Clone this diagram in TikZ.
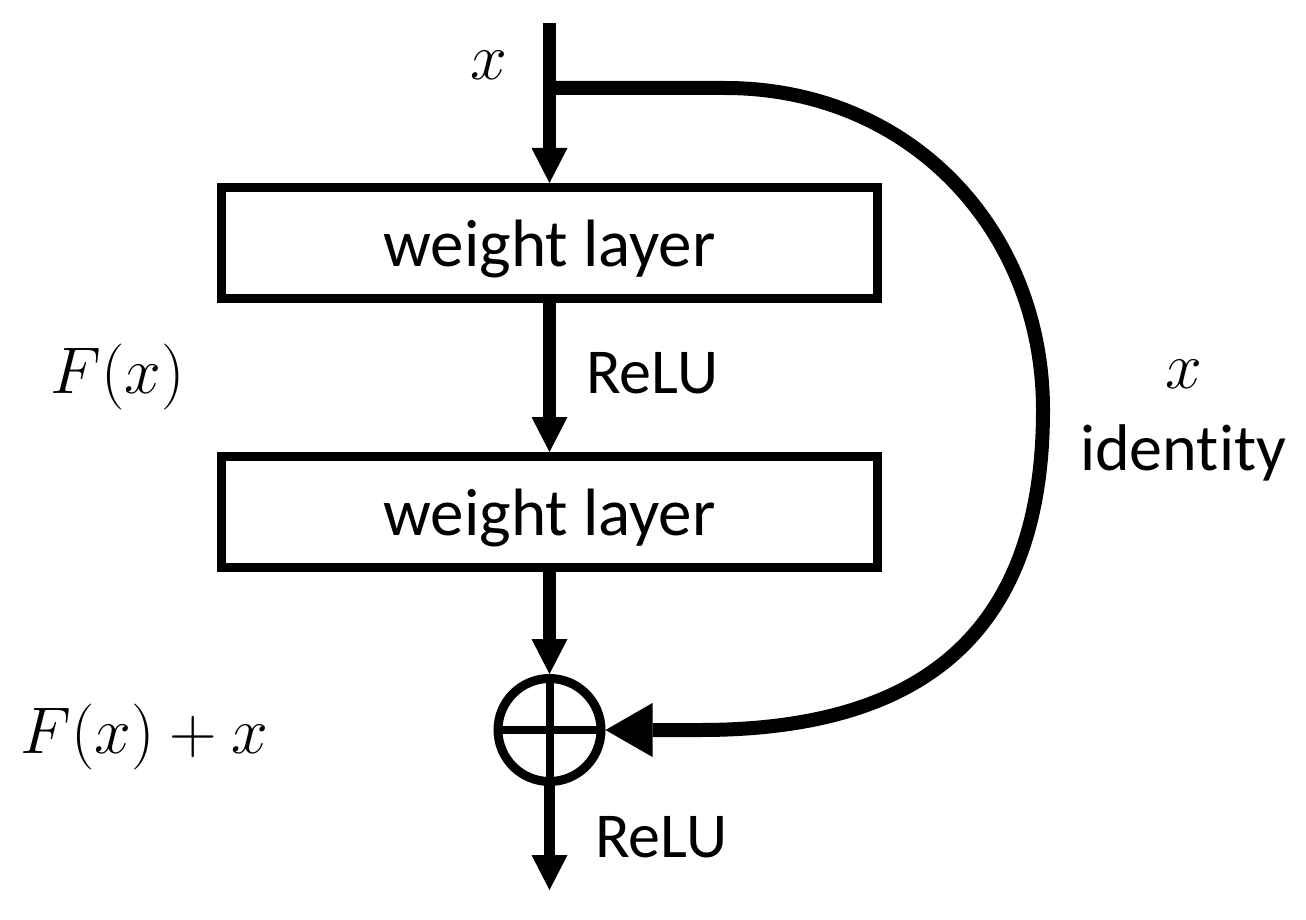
\RequirePackage{fix-cm}
\documentclass[tikz,border=0pt]{standalone}
\usepackage{fontspec}
\setmainfont{Carlito}[Ligatures=NoCommon]
\usetikzlibrary{arrows.meta}
\begin{document}
\begin{tikzpicture}[x=1pt,y=-1pt,
  lbl/.style={font=\fontsize{64}{70}\selectfont, inner sep=0pt, anchor=base west},
  mth/.style={font=\fontsize{66}{72}\selectfont, inner sep=0pt, anchor=base west},
  layerbox/.style={draw, line width=9pt, minimum width=656pt, minimum height=111pt, inner sep=0pt,
    text height=56pt, text depth=10pt, font=\fontsize{67}{72}\selectfont},
  arr/.style={line width=13pt, -{Triangle[length=35pt,width=36pt,line width=0pt]}},
  bigarr/.style={line width=14pt, -{Triangle[length=47pt,width=54pt,line width=0pt]}}]
\useasboundingbox (0,0) rectangle (1306,920);
\coordinate (in) at (549.5,23);
\coordinate (ts) at (556,88);
\coordinate (out) at (549.5,890);
\node[layerbox] (w1) at (549.5,243) {weight layer};
\node[layerbox] (w2) at (549.5,512) {weight layer};
\node[circle, draw, line width=9pt, minimum size=103pt, inner sep=0pt, outer sep=4.5pt] (plus) at (549.5,730) {};
\draw[line width=8pt] (plus.center) ++(0,-52) -- ++(0,104);
\draw[line width=8pt] (plus.center) ++(-52,0) -- ++(104,0);
\draw[arr] (in) -- (w1.north);
\draw[arr] (w1) -- (w2);
\draw[arr] (w2) -- (plus);
\draw[arr, line width=11pt] (plus) -- (out);
\draw[bigarr] (ts) -- (725,88) .. controls (910,88) and (1043,230) .. (1043,410)
  .. controls (1043,635) and (920,730) .. (700,730) -- (plus.east);
\node[mth] (xin) at (470,80) {$x$};
\node[mth] (fx) at (50,393) {$F(x)$};
\node[mth] (fxx) at (20,753) {$F(x)+x$};
\node[lbl] (relu1) at (586,393) {ReLU};
\node[lbl] (relu2) at (595,857) {ReLU};
\node[mth] (xid) at (1165,388) {$x$};
\node[lbl, font=\fontsize{66}{72}\selectfont] (idt) at (1080,470) {identity};
\end{tikzpicture}
\end{document}
